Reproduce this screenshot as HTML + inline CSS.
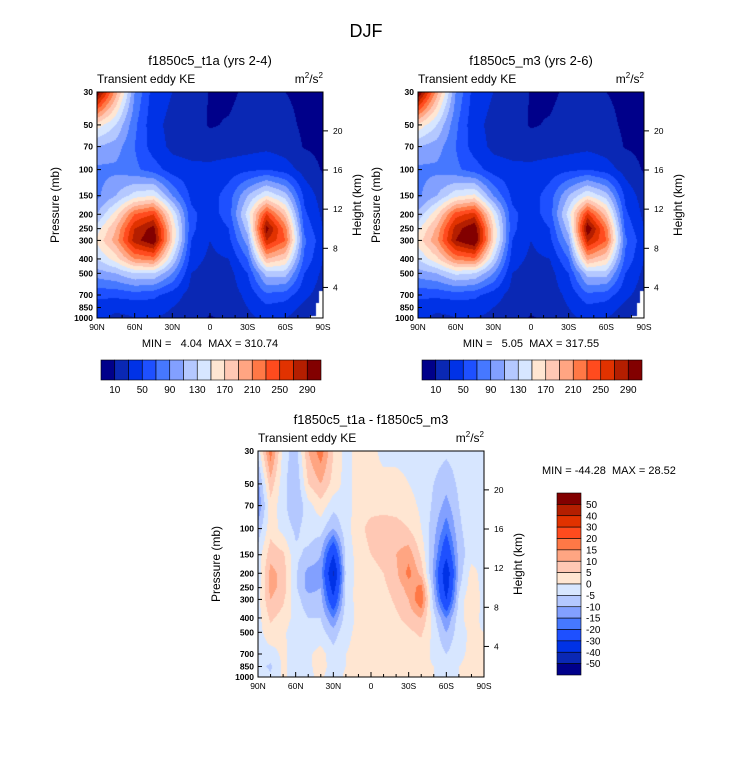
<!DOCTYPE html>
<html><head><meta charset="utf-8">
<style>
body{margin:0;background:#fff;width:733px;height:772px;overflow:hidden;position:relative;font-family:"Liberation Sans",sans-serif}
canvas{position:absolute}
svg{position:absolute;left:0;top:0}
text{white-space:pre}
</style></head>
<body>
<canvas id="c1" width="226" height="226" style="left:97px;top:92px"></canvas>
<canvas id="c2" width="226" height="226" style="left:418px;top:92px"></canvas>
<canvas id="c3" width="226" height="226" style="left:258px;top:451px"></canvas>
<svg id="s" width="733" height="772"></svg>
<script>
const levels=[30,50,70,100,150,200,250,300,400,500,700,850,1000];
const latLabels=["90N","60N","30N","0","30S","60S","90S"];
const pTicks=[30,50,70,100,150,200,250,300,400,500,700,850,1000];
const zTicks=[4,8,12,16,20];
const bounds1=[10,30,50,70,90,110,130,150,170,190,210,230,250,270,290];
const cbLabels1=[10,50,90,130,170,210,250,290];
const bounds3=[-50,-40,-30,-20,-15,-10,-5,0,5,10,15,20,30,40,50];
const colors=["#00008a","#0a28b4","#0032e6","#1e50ff","#4678ff","#82a0ff","#b4c8ff","#d7e6ff","#ffe6d2","#ffc8b4","#ffa582","#ff7846","#ff4b1e","#e13200","#b41e00","#820000"];
// KE grids: rows=levels, cols 90N..90S step 15
const ke1=[
[310,200,90,40,30,25,8,5,15,15,10,6,5],
[160,130,75,35,25,20,8,12,20,20,15,7,4],
[110,100,70,40,25,22,20,20,22,25,20,9,5],
[85,85,75,60,40,35,35,40,45,50,40,22,8],
[85,110,140,150,90,45,40,60,110,150,120,45,20],
[110,160,230,250,150,55,40,60,140,250,180,55,25],
[140,190,270,300,170,55,35,50,120,300,220,65,30],
[155,200,280,310,170,50,30,45,100,270,230,75,35],
[130,160,210,220,130,40,25,30,70,190,170,65,30],
[100,110,130,130,90,30,20,22,50,120,120,50,25],
[55,55,60,55,40,22,18,20,35,65,60,35,20],
[40,35,35,40,30,20,15,18,30,45,40,25,15],
[35,25,30,30,25,18,8,15,25,35,30,20,15]];
const ke2=[
[317,200,90,40,30,25,8,5,15,15,10,6,5],
[165,130,75,35,25,20,8,12,20,20,15,7,4],
[110,100,70,40,25,22,20,20,22,25,20,9,5],
[85,85,75,60,40,35,35,40,45,50,40,22,8],
[85,110,145,155,90,45,40,60,110,150,120,45,20],
[115,165,240,260,150,55,40,60,140,255,180,55,25],
[145,195,280,310,170,55,35,50,120,310,220,65,30],
[160,205,290,317,170,50,30,45,100,275,230,75,35],
[130,165,215,225,130,40,25,30,70,195,170,65,30],
[100,110,135,130,90,30,20,22,50,120,120,50,25],
[55,55,60,55,40,22,18,20,35,65,60,35,20],
[40,35,35,40,30,20,15,18,30,45,40,25,15],
[35,25,30,30,25,18,8,15,25,35,30,20,15]];
// diff grid cols 90N..90S step 10
const diff=[
[-3,18,-2,-8,10,18,5,-2,2,2,-2,-2,-2,-2,-3,-4,-3,-2,-2],
[-12,8,-3,-10,5,10,3,-2,2,2,2,2,0,-2,-5,-8,-4,-1,-2],
[-15,3,-3,-10,-2,3,-3,-2,2,3,3,3,2,-1,-6,-12,-5,-2,-2],
[-8,3,-2,-6,-3,-3,-10,-2,3,7,8,7,5,0,-8,-18,-6,-2,-2],
[-3,8,6,-4,-6,-10,-30,-3,2,5,7,10,13,4,-10,-28,-8,-2,-2],
[-3,12,8,-4,-12,-12,-42,-4,2,3,5,9,17,8,-12,-38,-8,2,-2],
[-3,12,8,-4,-12,-10,-35,-3,2,3,4,7,12,17,-10,-35,-6,3,-2],
[-2,10,6,-3,-8,-8,-28,-3,2,3,3,6,10,20,-8,-30,-4,5,-2],
[-2,6,3,-2,-5,-5,-15,-2,1,2,2,4,7,10,-3,-15,-2,3,-2],
[-2,3,1,-3,-3,-3,-8,-1,1,2,1,2,4,6,-2,-10,-2,1,0],
[-2,-2,1,-2,-1,2,-3,0,1,2,1,1,2,2,-1,-5,-1,1,0],
[-3,-6,1,-2,-1,2,-2,0,1,1,1,1,2,1,0,-3,0,1,1],
[-2,-4,1,-2,-1,1,-3,1,1,1,1,1,1,1,0,-2,0,1,1]];

const W=226,H=226,L=Math.log(1000/30);
function yOfP(p){return (1-Math.log(1000/p)/L)*H;}
function yOfZ(z){return (0.0433*z-0.038)*H;}
const lnl=levels.map(p=>Math.log(p));
function hex(c){return [parseInt(c.slice(1,3),16),parseInt(c.slice(3,5),16),parseInt(c.slice(5,7),16)];}
const rgb=colors.map(hex);
function bin(v,b){let i=0;while(i<b.length&&v>=b[i])i++;return i;}
function draw(id,grid,b,mask){
 const ctx=document.getElementById(id).getContext('2d');
 const img=ctx.createImageData(W,H);const nc=grid[0].length;
 for(let y=0;y<H;y++){
  const lp=Math.log(1000)-(1-(y+0.5)/H)*L;
  let k=0;while(k<levels.length-2&&lp>lnl[k+1])k++;
  let t=(lp-lnl[k])/(lnl[k+1]-lnl[k]);t=Math.max(0,Math.min(1,t));
  for(let x=0;x<W;x++){
   const fx=(x+0.5)/W*(nc-1);let j=Math.min(nc-2,Math.floor(fx));const s=fx-j;
   const v=(1-t)*((1-s)*grid[k][j]+s*grid[k][j+1])+t*((1-s)*grid[k+1][j]+s*grid[k+1][j+1]);
   let c=rgb[bin(v,b)];
   if(mask&&((x>221&&y>198)||(x>218&&y>210)||(x>212&&y>223))) c=[255,255,255];
   const o=(y*W+x)*4;img.data[o]=c[0];img.data[o+1]=c[1];img.data[o+2]=c[2];img.data[o+3]=255;
  }}
 ctx.putImageData(img,0,0);
}
draw('c1',ke1,bounds1,true);draw('c2',ke2,bounds1,true);draw('c3',diff,bounds3,false);

const S=document.getElementById('s');const NS='http://www.w3.org/2000/svg';
function el(tag,attrs,text){const e=document.createElementNS(NS,tag);for(const k in attrs)e.setAttribute(k,attrs[k]);if(text!=null)e.textContent=text;S.appendChild(e);return e;}
function txt(x,y,s,size,anchor,rot){const a={x:x,y:y,'font-size':size,'text-anchor':anchor||'middle',fill:'#000'};if(rot)a.transform='rotate(-90 '+x+' '+y+')';return el('text',a,s);}
function panel(px,py,title,name){
 let e=txt(px+113,py-27,title,13);
 e=txt(px,py-9,'Transient eddy KE',12,'start');
 e=el('text',{x:px+226,y:py-9,'font-size':12,'text-anchor':'end'});e.innerHTML='m<tspan dy="-5" font-size="8">2</tspan><tspan dy="5">/s</tspan><tspan dy="-5" font-size="8">2</tspan>';
 
 e=el('rect',{x:px,y:py,width:W,height:H,fill:'none',stroke:'#000','stroke-width':1});
 
 pTicks.forEach(p=>{const y=py+yOfP(p);
  el('line',{x1:px,x2:px+4,y1:y,y2:y,stroke:'#000'});
  const t=txt(px-4,y+3,String(p),8.5,'end');t.setAttribute('font-weight','bold');
  });
 zTicks.forEach(z=>{const y=py+H-yOfZ(z);
  el('line',{x1:px+W,x2:px+W+5,y1:y,y2:y,stroke:'#000'});
  const t=txt(px+W+10,y+3,String(z),8.5,'start');
  });
 latLabels.forEach((l,i)=>{const x=px+i*W/6;
  el('line',{x1:x,x2:x,y1:py+H,y2:py+H-5,stroke:'#000'});
  if(i<6)for(let m=1;m<3;m++){const xm=x+m*W/18;el('line',{x1:xm,x2:xm,y1:py+H,y2:py+H-3,stroke:'#000'});}
  const t=txt(x,py+H+12,l,8.5);});
 e=txt(px-38,py+113,'Pressure (mb)',12,'middle',true);
 e=txt(px+W+38,py+113,'Height (km)',12,'middle',true);
}
let e=txt(366,37,'DJF',18);
panel(97,92,'f1850c5_t1a (yrs 2-4)','panel-t1a');
panel(418,92,'f1850c5_m3 (yrs 2-6)','panel-m3');
panel(258,451,'f1850c5_t1a - f1850c5_m3','panel-diff');
e=txt(210,347,'MIN =   4.04  MAX = 310.74',11);
e=txt(531,347,'MIN =   5.05  MAX = 317.55',11);
e=txt(542,474,'MIN = -44.28  MAX = 28.52',11,'start');
function hbar(x0){const w=220/16;
 colors.forEach((c,i)=>{const r=el('rect',{x:x0+i*w,y:360,width:w,height:20,fill:c,stroke:'#000','stroke-width':0.6});
  });
 cbLabels1.forEach(v=>{const i=bounds1.indexOf(v);const t=txt(x0+(i+1)*w,393,String(v),10);
  });}
hbar(101);hbar(422);
const h=182/16;
colors.slice().reverse().forEach((c,i)=>{const r=el('rect',{x:557,y:493+i*h,width:24,height:h,fill:c,stroke:'#000','stroke-width':0.6});
 });
bounds3.slice().reverse().forEach((v,i)=>{const t=txt(586,493+(i+1)*h+3.5,String(v),10,'start');
 });
</script>
</body></html>
